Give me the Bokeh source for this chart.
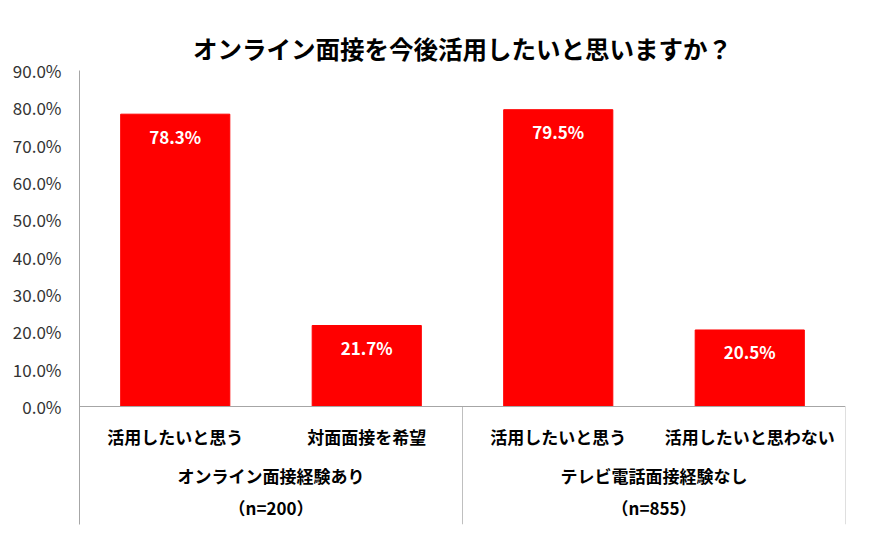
from bokeh.plotting import figure
from bokeh.models import FactorRange, Range1d, FixedTicker, PrintfTickFormatter, ColumnDataSource
from bokeh.embed import file_html
from bokeh.resources import INLINE

title = "オンライン面接を今後活用したいと思いますか？"
groups = ["オンライン面接経験あり\n（n=200）", "テレビ電話面接経験なし\n（n=855）"]
subcats = [["活用したいと思う", "対面面接を希望"], ["活用したいと思う", "活用したいと思わない"]]
values = [78.3, 21.7, 79.5, 20.5]
y_ticks = [0, 10, 20, 30, 40, 50, 60, 70, 80, 90]

factors = [(g, c) for g, cs in zip(groups, subcats) for c in cs]
labels = ["%.1f%%" % v for v in values]
src = ColumnDataSource(dict(x=factors, top=values, label=labels))

FONT = "Noto Sans CJK JP"
p = figure(width=858, height=533, output_backend="svg", toolbar_location=None,
           x_range=FactorRange(*factors, group_padding=0, factor_padding=0, range_padding=0),
           y_range=Range1d(-31.6, 90), min_border_left=79, min_border_right=13,
           min_border_bottom=9, min_border_top=70)
p.title.text = title
p.title.align = "center"
p.title.text_font = FONT
p.title.text_font_size = "24.5px"
p.title.text_font_style = "bold"
p.title.text_color = "black"

p.vbar(x="x", top="top", width=0.57, source=src, color="#FF0000")
p.text(x="x", y="top", text="label", source=src, text_color="white", text_font_size="17px",
       text_font_style="bold", text_align="center", text_baseline="middle", y_offset=22,
       text_font={"value": FONT})

# separators for groups extending below the axis
n = len(factors)
sep_x = [len(subcats[0]), n]
p.segment(x0=sep_x, x1=sep_x, y0=[p.y_range.start]*2, y1=[0]*2, line_color="#BFBFBF", line_width=1)

p.xgrid.visible = False
p.ygrid.visible = False
p.outline_line_color = None

xa = p.xaxis[0]
xa.fixed_location = 0
xa.axis_line_color = "#A6A6A6"
xa.major_tick_line_color = None
xa.minor_tick_line_color = None
xa.separator_line_color = None
xa.major_label_text_font = FONT
xa.major_label_text_font_size = "17px"
xa.major_label_text_font_style = "bold"
xa.major_label_text_color = "black"
xa.major_label_standoff = 11
xa.group_text_font = FONT
xa.group_text_font_size = "17px"
xa.group_text_font_style = "bold"
xa.group_text_color = "black"
xa.group_text_line_height = 1.3

ya = p.yaxis[0]
ya.ticker = FixedTicker(ticks=y_ticks)
ya.formatter = PrintfTickFormatter(format="%.1f%%")
ya.axis_line_color = "#A6A6A6"
ya.major_tick_line_color = None
ya.minor_tick_line_color = None
ya.major_label_text_font = FONT
ya.major_label_text_font_size = "17px"
ya.major_label_text_color = "#333333"
ya.major_label_standoff = 12

open("out.html", "w").write(file_html(p, INLINE))
